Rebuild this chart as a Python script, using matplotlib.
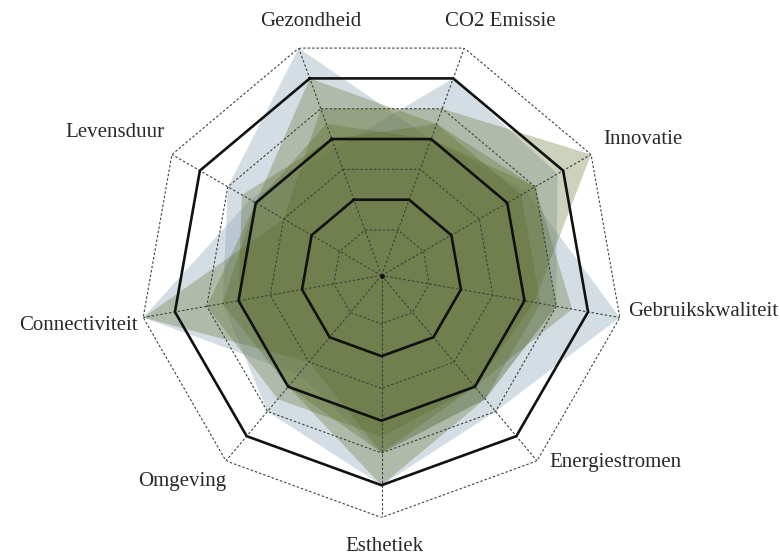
import numpy as np
import matplotlib
matplotlib.use("Agg")
import matplotlib.pyplot as plt

categories = ["Gezondheid", "CO2 Emissie", "Innovatie", "Gebruikskwaliteit",
              "Energiestromen", "Esthetiek", "Omgeving", "Connectiviteit", "Levensduur"]

# series values (order as categories)
blue_1 = [7.0, 4.0, 4.7, 7.0, 5.0, 6.0, 5.0, 4.5, 5.0]
blue_2 = [3.7, 6.0, 5.8, 5.0, 4.5, 5.0, 3.5, 7.0, 4.2]
olive_1 = [5.0, 5.0, 7.0, 4.3, 4.0, 5.0, 3.0, 7.0, 3.0]
olive_2 = [6.0, 4.5, 5.0, 5.0, 4.5, 6.0, 4.0, 4.5, 4.0]
olive_3 = [4.5, 4.0, 5.0, 5.5, 4.0, 4.5, 4.5, 5.0, 4.0]
olive_4 = [4.0, 4.5, 4.5, 4.5, 4.5, 5.0, 4.0, 4.0, 4.5]

levels = [1, 2, 3, 4, 5, 6, 7]
solid_levels = [2, 4, 6]
r_min, r_max = -0.5, 7

# label offsets (points) and alignment
label_style = {
    "Gezondheid": (9, 19, "center"),
    "CO2 Emissie": (26, 19, "center"),
    "Innovatie": (9, 11, "left"),
    "Gebruikskwaliteit": (6, 4, "left"),
    "Energiestromen": (9, -1.5, "left"),
    "Esthetiek": (2, -21, "center"),
    "Omgeving": (0, -15, "right"),
    "Connectiviteit": (-4, -5.5, "right"),
    "Levensduur": (-5, 15.5, "right"),
}

W, H = 780, 558
fig = plt.figure(figsize=(W / 100, H / 100), dpi=100)
cx, cy, R = 381.5, 275.5, 242
ax = fig.add_axes([(cx - R) / W, (H - cy - R) / H, 2 * R / W, 2 * R / H], projection="polar")
ax.set_theta_offset(np.deg2rad(110))
ax.set_theta_direction(-1)
ax.set_ylim(r_min, r_max)
ax.axis("off")

n = len(categories)
theta = np.arange(n) * 2 * np.pi / n
theta_c = np.concatenate([theta, theta[:1]])

def closed(v):
    v = list(v)
    return np.array(v + v[:1])

blue = "#8aa3b5"
olive = "#5a6a24"
for vals in [blue_1, blue_2]:
    ax.fill(theta_c, closed(vals), color=blue, alpha=0.36, lw=0, zorder=1)
for vals in [olive_1, olive_2, olive_3, olive_4]:
    ax.fill(theta_c, closed(vals), color=olive, alpha=0.30, lw=0, zorder=2)

# grid
dash = (0, (2.2, 1.8))
grid_col = "#3c423c"
for lv in levels:
    if lv in solid_levels:
        ax.plot(theta_c, [lv] * (n + 1), color="#111111", lw=1.9, zorder=4)
    else:
        ax.plot(theta_c, [lv] * (n + 1), color=grid_col, lw=0.8, ls=dash, zorder=3)
for t in theta:
    ax.plot([t, t], [r_min, r_max], color=grid_col, lw=0.8, ls=dash, zorder=3)
ax.plot([0], [r_min], marker="o", ms=2.5, color="#111111", zorder=5)

for t, name in zip(theta, categories):
    dx, dy, ha = label_style[name]
    ax.annotate(name, xy=(t, r_max), xytext=(dx, dy), textcoords="offset points",
                ha=ha, va="center", fontsize=15, family="Liberation Serif",
                color="#2a2a2a", annotation_clip=False)

fig.savefig("out.png", dpi=100, facecolor="white")
